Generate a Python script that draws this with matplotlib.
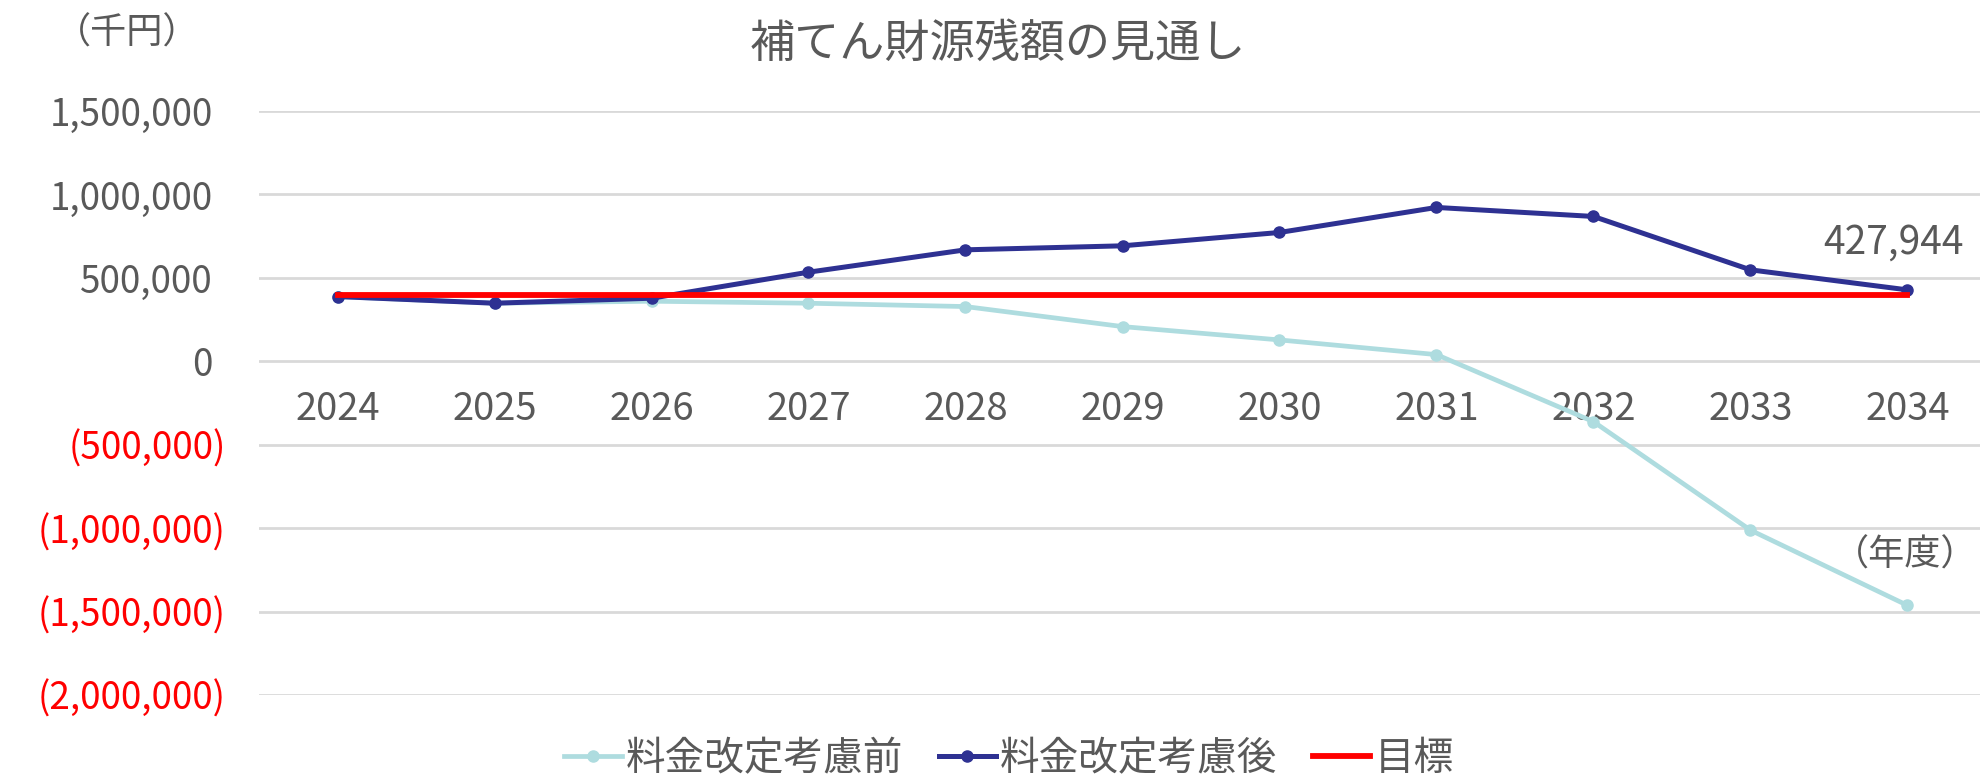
import matplotlib
matplotlib.use("Agg")
import matplotlib.pyplot as plt
import matplotlib.transforms as mtransforms
from matplotlib.ticker import FixedLocator

plt.rcParams['font.family'] = ['Noto Sans CJK JP', 'DejaVu Sans']

years = ['2024', '2025', '2026', '2027', '2028', '2029', '2030', '2031', '2032', '2033', '2034']
before = [388000, 348000, 360000, 348000, 328000, 208000, 128000, 40000, -362000, -1012000, -1463000]
after = [388000, 348000, 378000, 534000, 668000, 692000, 772000, 922000, 868000, 548000, 427944]
target = [400000] * 11
yticks = [1500000, 1000000, 500000, 0, -500000, -1000000, -1500000, -2000000]
series_names = ['料金改定考慮前', '料金改定考慮後', '目標']
title = '補てん財源残額の見通し'

GRAY = '#595959'
LIGHT = '#AEDCDF'
DARK = '#2E3192'
RED = '#FF0000'

fig = plt.figure(figsize=(19.81, 7.76), dpi=100)
ax = fig.add_axes([259 / 1981, 1 - 695 / 776, 11 * 157 / 1981, (695 - 111) / 776])

x = list(range(len(years)))
ax.plot(x, before, color=LIGHT, lw=3.4, marker='o', ms=8, label=series_names[0], zorder=3)
ax.plot(x, after, color=DARK, lw=3.6, marker='o', ms=8, label=series_names[1], zorder=4)
ax.plot(x, target, color=RED, lw=4.2, label=series_names[2], zorder=5)

ax.set_xlim(-0.5, len(years) - 0.5)
ax.set_ylim(min(yticks), max(yticks))

ax.yaxis.set_major_locator(FixedLocator(yticks))
labels = []
for v in yticks:
    if v < 0:
        labels.append('({:,})'.format(-v))
    else:
        labels.append('{:,}'.format(v))
ax.set_yticklabels(labels)
ax.tick_params(axis='y', length=0, pad=24, labelsize=26.5)
for lab, v in zip(ax.get_yticklabels(), yticks):
    if v < 0:
        lab.set_color(RED)
    else:
        lab.set_color(GRAY)
        lab.set_transform(lab.get_transform() + mtransforms.ScaledTranslation(-0.13, 0, fig.dpi_scale_trans))

ax.set_xticks(x)
ax.set_xticklabels(years)
ax.spines['bottom'].set_position(('data', 0))
ax.tick_params(axis='x', length=0, pad=21, labelsize=27.5, colors=GRAY)
for s in ['top', 'right', 'left', 'bottom']:
    ax.spines[s].set_visible(False)

ax.grid(axis='y', color='#D9D9D9', lw=2)
ax.set_axisbelow(True)

ax.annotate('{:,}'.format(after[-1]), xy=(x[-1], after[-1]), xytext=(-10, 34),
            textcoords='offset points', ha='center', va='center', fontsize=28, color=GRAY,
            arrowprops=dict(arrowstyle='-', color='#7F7F7F', lw=1, shrinkA=16, shrinkB=4))

fig.text(998 / 1981, 1 - 44 / 776, title, ha='center', va='center', fontsize=32.5, color=GRAY)
fig.text(127 / 1981, 1 - 34 / 776, '（千円）', ha='center', va='center', fontsize=26, color=GRAY)
fig.text(1977 / 1981, 1 - 556 / 776, '（年度）', ha='right', va='center', fontsize=26, color=GRAY)

fig.legend(loc='center', bbox_to_anchor=(1009 / 1981, 0.022), ncol=3, frameon=False,
           fontsize=28.5, handlelength=1.45, handletextpad=0.1, columnspacing=0.9,
           labelcolor=GRAY, borderaxespad=0)

fig.savefig('out.png', dpi=100)
